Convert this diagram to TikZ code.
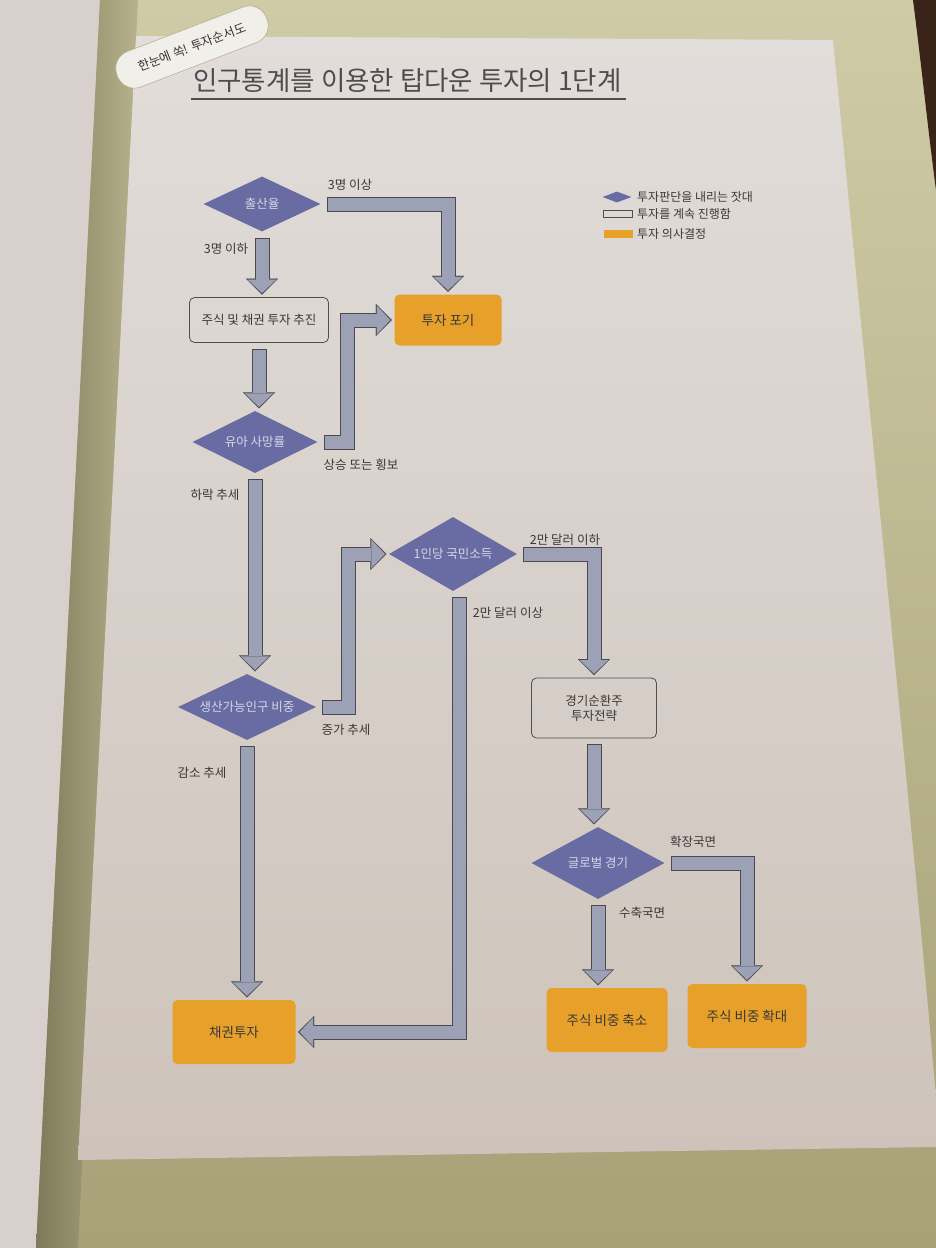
\documentclass[tikz,border=0pt]{standalone}
\usepackage{fontspec}
\setmainfont{Noto Sans CJK KR}
\usetikzlibrary{shapes.geometric,arrows.meta,calc}
\definecolor{greentop}{HTML}{CFCBA6}
\definecolor{greenbot}{HTML}{A6A176}
\definecolor{leftpage}{HTML}{D8D0CC}
\definecolor{gutdark}{HTML}{7E7A5A}
\definecolor{gutlight}{HTML}{B7B28C}
\definecolor{brown}{HTML}{3A2419}
\definecolor{pagetop}{HTML}{E2DDDA}
\definecolor{pagebot}{HTML}{CDC3BA}
\definecolor{diacol}{HTML}{686CA2}
\definecolor{diatext}{HTML}{D6D7E6}
\definecolor{orangecol}{HTML}{E7A02A}
\definecolor{arrfill}{HTML}{9CA1B6}
\definecolor{arrline}{HTML}{4A4A4E}
\definecolor{boxline}{HTML}{4F4F4F}
\definecolor{txt}{HTML}{3A3838}
\definecolor{titlecol}{HTML}{4E4C4C}
\definecolor{bubble}{HTML}{F1EFEA}
\newcommand\fsz[2]{\fontsize{#1}{#2}\selectfont}
\tikzset{
  dia/.style={diamond, aspect=2, fill=diacol, inner sep=0pt, text=diatext, font=\fsz{12.5}{14}},
  plainbox/.style={rectangle, rounded corners=5pt, draw=boxline, line width=0.8pt, text=txt, font=\fsz{12.5}{15}, align=center},
  decbox/.style={rectangle, rounded corners=5pt, fill=orangecol, text=txt, font=\fsz{13.5}{16}},
  lbl/.style={text=txt, font=\fsz{12.5}{14}, inner sep=0pt},
  legtxt/.style={text=txt, font=\fsz{12}{14}, anchor=west, inner sep=0pt},
  arrout/.style={draw=arrline, line width=15pt, line join=miter,
     -{Triangle[width=32pt,length=16pt,line width=0.01pt]},
     shorten <=6pt, shorten >=2.5pt},
  arrin/.style={draw=arrfill, line width=13pt, line join=miter,
     -{Triangle[width=28.5pt,length=13.5pt,line width=0.01pt]},
     shorten <=7pt, shorten >=4pt}
}
\newcommand\blockarrow[1]{\draw[arrout] #1; \draw[arrin] #1;}
\begin{document}
\begin{tikzpicture}[x=1pt,y=-1pt]
\useasboundingbox (0,0) rectangle (936,1248);
% ---- page background ----
\shade[top color=greentop, bottom color=greenbot] (0,0) rectangle (936,1248);
\fill[leftpage] (0,0) -- (100,0) -- (36,1248) -- (0,1248) -- cycle;
\shade[left color=gutdark, right color=gutlight] (100,0) -- (138,0) -- (78,1248) -- (36,1248) -- cycle;
\fill[brown] (913,0) .. controls (922,70) and (928,130) .. (936,190) -- (936,0) -- cycle;
\shade[top color=pagetop, bottom color=pagebot]
  (136,36) -- (833,40) .. controls (868,400) and (915,850) .. (936,1098)
  -- (936,1147) -- (78,1160) -- cycle;
% ---- speech bubble tab ----
\node[rotate=21, fill=bubble, draw=gutlight, line width=0.6pt, rounded corners=18pt,
      minimum width=160pt, minimum height=38pt, text=black!80, font=\fsz{12.5}{14}]
      (tab) at (192,47) {한눈에 쏙! 투자순서도};
% ---- title ----
\node[anchor=west, text=titlecol, font=\fsz{26.5}{30}, inner sep=0pt] (title) at (193,81)
  {인구통계를 이용한 탑다운 투자의 1단계};
\draw[titlecol, line width=1.3pt] (191,99) -- (626,99);
% ---- legend ----
\node[dia, minimum width=29pt, minimum height=11pt] (lgd) at (617,197) {};
\node[rectangle, draw=boxline, line width=0.8pt, minimum width=29pt, minimum height=7pt, inner sep=0pt] (lgb) at (618,214) {};
\node[rectangle, fill=orangecol, minimum width=29pt, minimum height=8pt, inner sep=0pt] (lgo) at (618,234) {};
\node[legtxt] (lgdt) at (637,197) {투자판단을 내리는 잣대};
\node[legtxt] (lgbt) at (637,214) {투자를 계속 진행함};
\node[legtxt] (lgot) at (637,234) {투자 의사결정};
% ---- decision diamonds ----
\node[dia, minimum width=117pt, minimum height=55pt] (d1) at (262,204) {출산율};
\node[dia, minimum width=125pt, minimum height=62pt] (d2) at (255,442) {유아 사망률};
\node[dia, minimum width=138pt, minimum height=66pt] (d3) at (247,707) {생산가능인구 비중};
\node[dia, minimum width=128pt, minimum height=74pt] (d4) at (453,554) {1인당 국민소득};
\node[dia, minimum width=133pt, minimum height=72pt] (d5) at (598,863) {글로벌 경기};
% ---- process boxes ----
\node[plainbox, minimum width=139pt, minimum height=45pt] (b1) at (259,320) {주식 및 채권 투자 추진};
\node[plainbox, minimum width=125pt, minimum height=60pt] (b2) at (594,708) {경기순환주\\투자전략};
% ---- decision results ----
\node[decbox, minimum width=107pt, minimum height=51pt] (o1) at (448,320) {투자 포기};
\node[decbox, minimum width=123pt, minimum height=64pt] (o2) at (234,1032) {채권투자};
\node[decbox, minimum width=121pt, minimum height=64pt] (o3) at (607,1020) {주식 비중 축소};
\node[decbox, minimum width=119pt, minimum height=64pt] (o4) at (747,1016) {주식 비중 확대};
% ---- block arrows ----
\blockarrow{(d1.east) -| (o1.north)}
\blockarrow{(d1.south) -- (d1.south |- b1.north)}
\blockarrow{(b1.south) -- (b1.south |- d2.north)}
\blockarrow{(d2.east) -- ++(30,0) |- (o1.west)}
\blockarrow{(d2.south) -- (d2.south |- d3.north)}
\blockarrow{(d3.east) -- ++(32,0) |- (d4.west)}
\blockarrow{(d3.south) -- (d3.south |- o2.north)}
\blockarrow{(d4.east) -| (b2.north)}
\blockarrow{($(d4.south)+(6,0)$) |- (o2.east)}
\blockarrow{(b2.south) -- (b2.south |- d5.north)}
\blockarrow{(d5.east) -| (o4.north)}
\blockarrow{(d5.south) -- (d5.south |- o3.north)}
% ---- branch labels ----
\node[lbl] (l1) at (350,185) {3명 이상};
\node[lbl] (l2) at (226,249) {3명 이하};
\node[lbl] (l3) at (361,465) {상승 또는 횡보};
\node[lbl] (l4) at (215,495) {하락 추세};
\node[lbl] (l5) at (346,730) {증가 추세};
\node[lbl] (l6) at (202,773) {감소 추세};
\node[lbl] (l7) at (565,540) {2만 달러 이하};
\node[lbl] (l8) at (508,613) {2만 달러 이상};
\node[lbl] (l9) at (693,842) {확장국면};
\node[lbl] (l10) at (642,913) {수축국면};
\end{tikzpicture}
\end{document}
